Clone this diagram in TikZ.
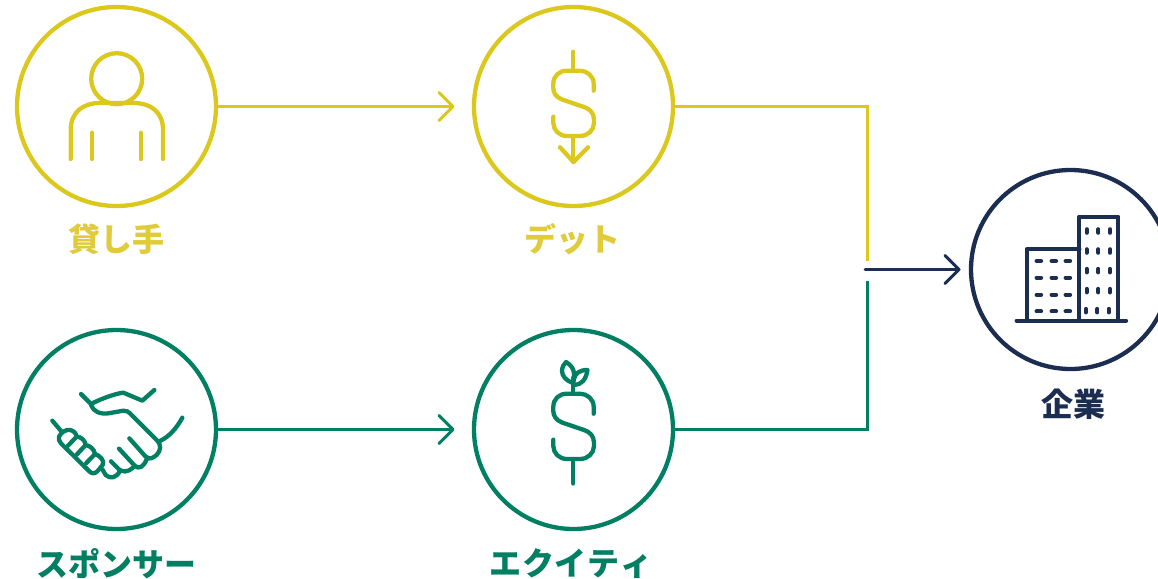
\documentclass[tikz,border=0pt]{standalone}
\usepackage{fontspec}
\newfontfamily\cjk{Noto Sans CJK JP}
\definecolor{yel}{HTML}{DCC71C}
\definecolor{ylab}{HTML}{E0CB3A}
\definecolor{grn}{HTML}{007F63}
\definecolor{nav}{HTML}{1B2E52}
\usetikzlibrary{calc}
\tikzset{
  circ/.style={circle,draw=#1,line width=4.3pt,minimum size=199pt,inner sep=0pt,outer sep=0pt},
  ico/.style={draw=#1,line width=4.3pt,line cap=round,line join=round},
  conn/.style={draw=#1,line width=3pt},
  tipline/.style={draw=#1,line width=3pt,line cap=round,line join=round},
  lab/.style={text=#1,font=\cjk\bfseries\fontsize{32}{36}\selectfont,inner sep=0pt,anchor=center}
}
\begin{document}
\begin{tikzpicture}[x=1pt,y=-1pt]
\useasboundingbox (0,0) rectangle (1158,578);
\clip (0,0) rectangle (1158,578);
% circles
\node[circ=yel] (lender) at (116.5,106.5) {};
\node[circ=yel] (debt) at (573.5,106.5) {};
\node[circ=grn] (sponsor) at (116.5,429.5) {};
\node[circ=grn] (equity) at (573.5,429.5) {};
\node[circ=nav] (corp) at (1070.5,269.5) {};
% labels
\node[lab=ylab] (l1) at (116.5,239) {貸し手};
\node[lab=ylab] (l2) at (572,239) {デット};
\node[lab=grn] (l3) at (116.5,563.5) {スポンサー};
\node[lab=grn] (l4) at (571,563.5) {エ\kern0.6ptク\kern0.6ptイ\kern0.6ptテ\kern0.6ptィ};
\node[lab=nav] (l5) at (1073,404.5) {企業};
% connectors
\coordinate (t1) at (453,106.5);
\coordinate (t2) at (453,429.5);
\coordinate (ya) at (867,106.5);
\coordinate (yb) at (867,261);
\coordinate (ga) at (867,429.5);
\coordinate (gb) at (867,281);
\coordinate (na) at (865,269.5);
\coordinate (nb) at (959,269.5);
\draw[conn=yel] (lender.east) -- (t1);
\draw[tipline=yel] ($(t1)+(-14,-14)$) -- (t1) -- ($(t1)+(-14,14)$);
\draw[conn=grn] (sponsor.east) -- (t2);
\draw[tipline=grn] ($(t2)+(-14,-14)$) -- (t2) -- ($(t2)+(-14,14)$);
\draw[conn=yel] (debt.east) -- (ya) -- (yb);
\draw[conn=grn] (equity.east) -- (ga) -- (gb);
\draw[tipline=nav] (na) -- (nb);
\draw[tipline=nav] ($(nb)+(-14,-14)$) -- (nb) -- ($(nb)+(-14,14)$);
% person
\draw[ico=yel] (116.7,78.7) circle (25.5);
\draw[ico=yel] (70.7,159) -- (70.7,130) .. controls (70.7,112) and (83,103) .. (100,103) -- (133,103) .. controls (151,103) and (163,112) .. (163,130) -- (163,159);
\draw[ico=yel] (91.7,132.7) -- (91.7,159);
\draw[ico=yel] (140.7,132.7) -- (140.7,159);
% debt dollar
\draw[ico=yel] (573.3,51.7) -- (573.3,70.7);
\draw[ico=yel] (593.7,90.7) -- (593.7,84) .. controls (593.7,76) and (587,70.7) .. (580,70.7) -- (567,70.7) .. controls (559,70.7) and (553.3,76) .. (553.3,84) -- (553.3,88) .. controls (553.3,93) and (556,97) .. (562,99.5) -- (584,107) .. controls (590,109) and (594,113) .. (594,120) -- (594,123) .. controls (594,130) and (588,136) .. (580,136) -- (567,136) .. controls (559,136) and (553.3,130) .. (553.3,123) -- (553.3,116.7);
\draw[ico=yel] (573.3,136) -- (573.3,162);
\draw[ico=yel] (560,147.3) -- (573.5,162) -- (588,147.3);
% equity dollar
\begin{scope}[yshift=-323pt]
\draw[ico=grn] (593.7,90.7) -- (593.7,84) .. controls (593.7,76) and (587,70.7) .. (580,70.7) -- (567,70.7) .. controls (559,70.7) and (553.3,76) .. (553.3,84) -- (553.3,88) .. controls (553.3,93) and (556,97) .. (562,99.5) -- (584,107) .. controls (590,109) and (594,113) .. (594,120) -- (594,123) .. controls (594,130) and (588,136) .. (580,136) -- (567,136) .. controls (559,136) and (553.3,130) .. (553.3,123) -- (553.3,116.7);
\draw[ico=grn] (573.3,136) -- (573.3,160.5);
\end{scope}
\draw[ico=grn] (573.3,394) -- (573.3,378);
\draw[ico=grn] (573.5,383) .. controls (566,381) and (562,376) .. (562,371) .. controls (562,367) and (564,364) .. (566,362) .. controls (571,365) and (574,369) .. (574,374) -- (573.5,383);
\draw[ico=grn] (574,385) .. controls (581,385) and (586,380) .. (587.5,370) .. controls (580,370) and (575,373) .. (574,379);
% handshake (in crop coordinates)
\begin{scope}[shift={(45,380)},x=0.3333pt,y=-0.3333pt]
\draw[ico=grn] (108,42) -- (138,72);
\draw[ico=grn] (138,72) .. controls (170,55) and (215,40) .. (235,38) -- (292,62) -- (328,30);
\draw[ico=grn] (138,75) .. controls (145,95) and (165,103) .. (190,100) -- (235,92) .. controls (245,92) and (250,95) .. (255,100) -- (335,180) .. controls (350,195) and (348,210) .. (335,225) -- (325,232) .. controls (315,238) and (308,235) .. (302,230) -- (253,175);
\draw[ico=grn] (345,183) .. controls (372,170) and (395,145) .. (412,113);
\draw[ico=grn] (305,238) .. controls (295,262) and (282,268) .. (270,258) -- (222,206);
\draw[ico=grn] (265,262) .. controls (245,280) and (232,275) .. (222,268) -- (198,244);
\draw[ico=grn] (225,272) .. controls (215,295) and (195,297) .. (182,285) -- (172,268);
\draw[ico=grn] (22,122) -- (50,155);
\draw[ico=grn] (42,170) .. controls (48,157) and (62,148) .. (75,150) .. controls (87,152) and (93,160) .. (95,170) .. controls (107,170) and (120,180) .. (122,195) .. controls (135,197) and (148,208) .. (150,222) .. controls (165,227) and (180,242) .. (173,255) -- (158,273) .. controls (150,282) and (140,282) .. (132,273) -- (48,190) .. controls (42,184) and (40,177) .. (42,170);
\draw[ico=grn] (68,198) -- (95,170);
\draw[ico=grn] (95,224) -- (122,195);
\draw[ico=grn] (123,250) -- (150,222);
\end{scope}
% building
\begin{scope}[shift={(850,160)},x=0.3333pt,y=-0.3333pt]
\draw[ico=nav] (500,482) -- (828,482);
\draw[ico=nav] (530,482) -- (530,268) -- (688,268);
\draw[ico=nav] (688,482) -- (688,170) -- (805,170) -- (805,482);
\foreach \yy in {303,353,404,454}{
  \foreach \xx in {560,605,647}{
    \draw[ico=nav] (\xx,\yy) -- ++(13,0);
  }
}
\foreach \yy in {208,268,327,387}{
  \foreach \xx in {710,745,780}{
    \draw[ico=nav] (\xx,\yy) -- ++(0,10);
  }
}
\foreach \xx in {708,742,776}{
  \draw[ico=nav] (\xx,447) -- ++(0,10);
}
\end{scope}
\end{tikzpicture}
\end{document}
